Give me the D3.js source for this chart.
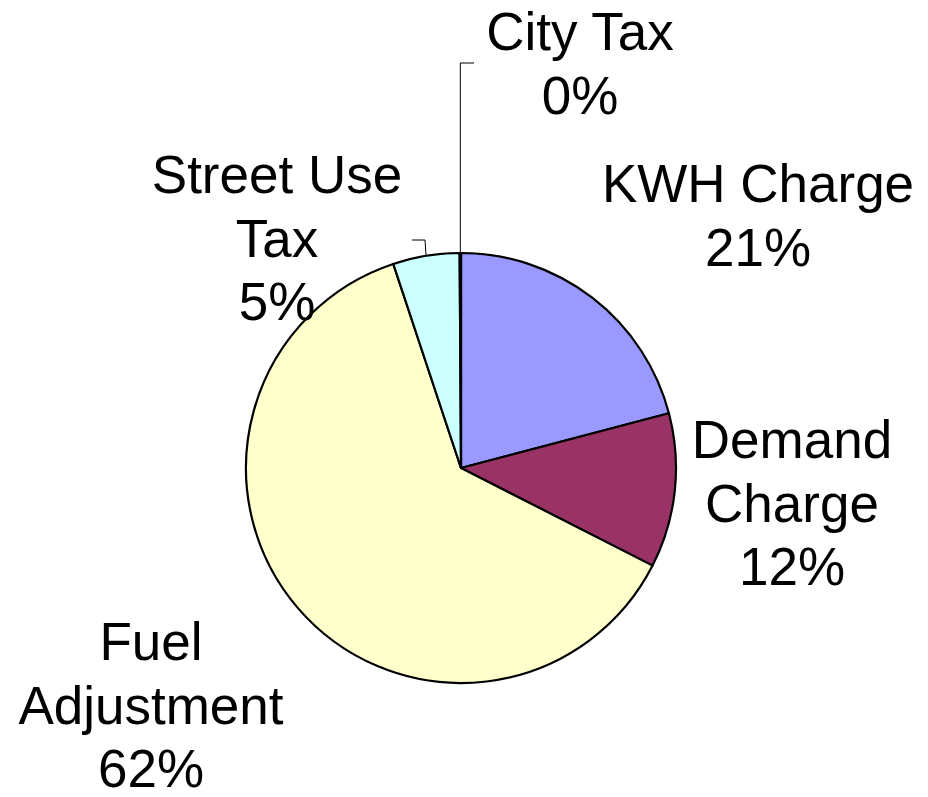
<!DOCTYPE html>
<html>
<head>
<meta charset="utf-8">
<script src="https://cdn.jsdelivr.net/npm/d3@7"></script>
<style>
  html, body { margin: 0; padding: 0; background: #fff; }
  svg { display: block; }
  text { font-family: "Liberation Sans", Arial, sans-serif; }
</style>
</head>
<body>
<script>
// ---- Data ----
const categories = ["KWH Charge", "Demand Charge", "Fuel Adjustment", "Street Use Tax", "City Tax"];
const values = [20.9, 11.6, 62.4, 5.0, 0.1];
// label lines (text only)
const labelLines = [
  ["KWH Charge"],
  ["Demand", "Charge"],
  ["Fuel", "Adjustment"],
  ["Street Use", "Tax"],
  ["City Tax"]
];

// ---- Layout / style ----
const W = 928, H = 797;
const cx = 461, cy = 468, R = 215;
const colors = ["#9999FF", "#993366", "#FFFFCC", "#CCFFFF", "#FFFFFF"];
const fontSize = 53, lineH = 63.5;
// label center x and first baseline y
const labelPos = [
  { x: 758, y: 202 },
  { x: 792, y: 458 },
  { x: 151, y: 660 },
  { x: 277, y: 193 },
  { x: 580, y: 50 }
];
// leader lines (indices with a leader): elbow and end points
const leaders = {
  3: [{ x: 425, y: 240 }, { x: 412, y: 240 }],
  4: [{ x: null, y: 63 }, { x: 474, y: 63 }]
};

const svg = d3.select("body").append("svg").attr("width", W).attr("height", H);

const data = categories.map((c, i) => ({ name: c, value: values[i], i }));
const pie = d3.pie().sort(null).value(d => d.value);
const arcs = pie(data);
const arc = d3.arc().innerRadius(0).outerRadius(R);

const g = svg.append("g").attr("transform", `translate(${cx},${cy})`);
g.selectAll("path.slice")
  .data(arcs)
  .join("path")
  .attr("class", "slice")
  .attr("d", arc)
  .attr("fill", d => colors[d.data.i])
  .attr("stroke", "#000")
  .attr("stroke-width", 2.2)
  .attr("stroke-linejoin", "round");

// leader lines
arcs.forEach(a => {
  const L = leaders[a.data.i];
  if (!L) return;
  const mid = (a.startAngle + a.endAngle) / 2;
  const px = cx + R * Math.sin(mid);
  const py = cy - R * Math.cos(mid);
  const pts = [[px, py]];
  L.forEach(p => pts.push([p.x == null ? px : p.x, p.y]));
  svg.append("path")
    .attr("d", d3.line()(pts))
    .attr("fill", "none")
    .attr("stroke", "#000")
    .attr("stroke-width", 1);
});

// labels
arcs.forEach(a => {
  const i = a.data.i;
  const lines = labelLines[i].concat([Math.round(a.data.value) + "%"]);
  const t = svg.append("text")
    .attr("text-anchor", "middle")
    .attr("font-size", fontSize)
    .attr("fill", "#000");
  lines.forEach((ln, k) => {
    t.append("tspan")
      .attr("x", labelPos[i].x)
      .attr("y", labelPos[i].y + k * lineH)
      .text(ln);
  });
});
</script>
</body>
</html>
